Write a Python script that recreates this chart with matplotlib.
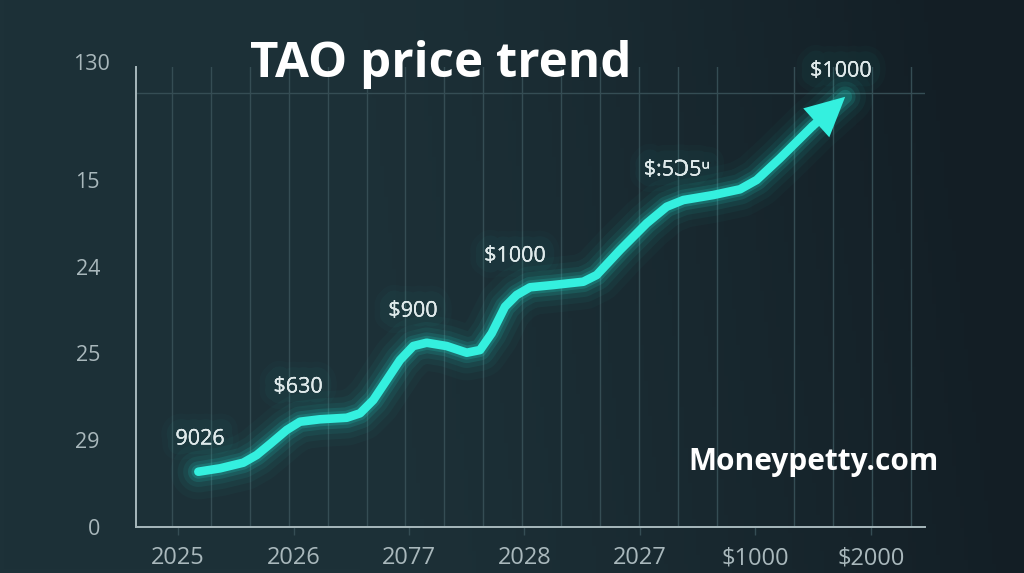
import numpy as np
import matplotlib
matplotlib.use('Agg')
import matplotlib.pyplot as plt
import matplotlib.patheffects as pe

# ---------------- data ----------------
title = "TAO price trend"
watermark = "Moneypetty.com"
x_tick_labels = ["2025", "2026", "2077", "2028", "2027", "$1000", "$2000"]
y_tick_labels = ["0", "29", "25", "24", "15"]
y_top_label = "130"

trend_x = [0.176, 0.364, 0.565, 0.681, 0.797, 0.941, 1.056, 1.229, 1.461, 1.576,
           1.691, 1.807, 1.922, 2.037, 2.153, 2.326, 2.500, 2.615, 2.716, 2.831,
           2.932, 3.048, 3.249, 3.509, 3.625, 3.827, 4.058, 4.231, 4.375, 4.635,
           4.866, 5.010, 5.212, 5.489, 5.777]
trend_y = [0.637, 0.676, 0.741, 0.829, 0.956, 1.118, 1.213, 1.241, 1.259, 1.310,
           1.463, 1.694, 1.924, 2.085, 2.123, 2.085, 2.008, 2.039, 2.232, 2.538,
           2.673, 2.762, 2.788, 2.826, 2.903, 3.191, 3.499, 3.690, 3.767, 3.825,
           3.891, 3.998, 4.248, 4.612, 4.957]

point_labels = ["9026", "$630", "$900", "$1000", "$:5Ɔ5ᵘ", "$1000"]
point_label_x = [0.190, 1.039, 2.035, 2.918, 4.320, 5.740]
point_label_y = [1.014, 1.613, 2.488, 3.122, 4.113, 5.253]

# ---------------- style ----------------
CYAN = "#34f0df"
GLOW = "#22d3c5"
GRID = "#354d54"
SPINE = "#a7b8bc"
TICK_TXT = "#a9b8bc"
LABEL_TXT = "#dfe9ea"
FONT = ["Open Sans", "DejaVu Sans"]

plt.rcParams['font.family'] = FONT

fig = plt.figure(figsize=(10.24, 5.73), dpi=100)

# background gradient
bg = fig.add_axes([0, 0, 1, 1], zorder=0)
gx = np.linspace(0, 1, 256)
gy = np.linspace(0, 1, 128)
GX, GY = np.meshgrid(gx, gy)
c_left = np.array([0x1d, 0x31, 0x38]) / 255
c_right = np.array([0x13, 0x1e, 0x25]) / 255
t = np.clip((GX - 0.35) / 0.65, 0, 1) ** 1.3
t = np.clip(t + 0.15 * GY * GX, 0, 1)
img = c_left[None, None, :] * (1 - t[..., None]) + c_right[None, None, :] * t[..., None]
bg.imshow(img, extent=[0, 1, 0, 1], aspect='auto', origin='lower')
bg.axis('off')

ax = fig.add_axes([136 / 1024, 1 - 527 / 573, (925 - 136) / 1024, (527 - 67) / 573], zorder=1)
ax.set_facecolor('none')
ax.set_xlim(-0.364, 6.468)
ax.set_ylim(0, 5.30)

# ticks
ax.set_xticks(np.arange(len(x_tick_labels)))
ax.set_xticklabels(x_tick_labels, fontsize=17, color=TICK_TXT)
ax.set_yticks(np.arange(len(y_tick_labels)))
ax.set_yticklabels(y_tick_labels, fontsize=15.5, color=TICK_TXT)
ax.tick_params(axis='x', length=6, width=1, color=GRID, pad=8)
ax.tick_params(axis='y', length=0, pad=26)

# grid lines
ax.set_xticks(np.arange(20) * 0.3368 - 0.052, minor=True)
ax.set_yticks(np.arange(1, 6), minor=True)
ax.tick_params(which='minor', length=0)
ax.grid(which='minor', color=GRID, lw=1.0)
ax.grid(which='major', visible=False)

for s in ['top', 'right']:
    ax.spines[s].set_visible(False)
for s in ['left', 'bottom']:
    ax.spines[s].set_color(SPINE)
    ax.spines[s].set_linewidth(1.4)

fig.text(110 / 1024, 1 - 64 / 573, y_top_label, ha='right', va='center',
         fontsize=15.5, color=TICK_TXT, zorder=3)

# glow line
for w, a in [(40, 0.03), (30, 0.05), (22, 0.08), (15, 0.14), (10, 0.2)]:
    ax.plot(trend_x, trend_y, color=GLOW, lw=w, alpha=a,
            solid_capstyle='round', solid_joinstyle='round', zorder=2)
ax.plot(trend_x[:-1], trend_y[:-1], color=CYAN, lw=6.2,
        solid_capstyle='round', solid_joinstyle='round', zorder=4)
ax.annotate("", xy=(trend_x[-1], trend_y[-1]), xytext=(trend_x[-2], trend_y[-2]),
            arrowprops=dict(arrowstyle='-|>,head_length=0.9,head_width=0.45',
                            lw=6.2, color=CYAN, mutation_scale=20,
                            shrinkA=0, shrinkB=0, capstyle='butt', joinstyle='miter'),
            zorder=4)

# point labels
for lx, ly, lt in zip(point_label_x, point_label_y, point_labels):
    ax.text(lx, ly, lt, ha='center', va='center', fontsize=15.5, color=LABEL_TXT,
            zorder=5, clip_on=False,
            path_effects=[pe.withStroke(linewidth=22, foreground=GLOW, alpha=0.025),
                          pe.withStroke(linewidth=14, foreground=GLOW, alpha=0.035),
                          pe.Normal()])

fig.text(441 / 1024, 1 - 77 / 573, title, ha='center', va='baseline',
         fontsize=35.5, fontweight='bold', color='white', zorder=5)
fig.text(688 / 1024, 1 - 470 / 573, watermark, ha='left', va='baseline',
         fontsize=21.5, fontweight='bold', color='white', zorder=5)

fig.savefig('out.png', dpi=100)
